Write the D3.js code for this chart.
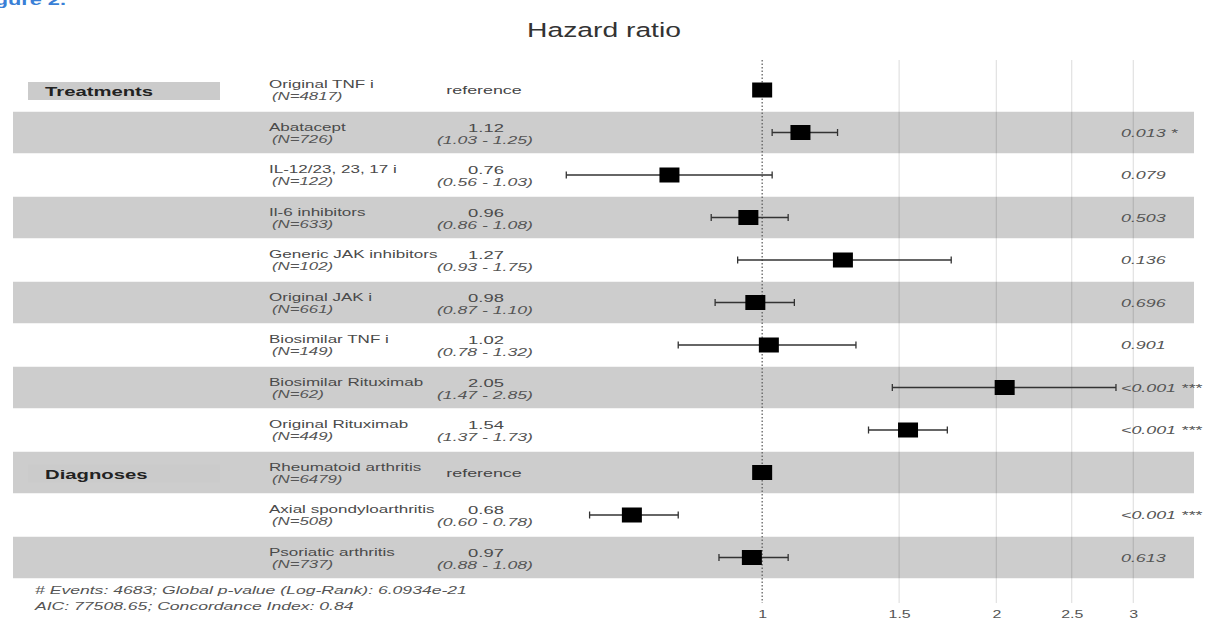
<!DOCTYPE html>
<html><head><meta charset="utf-8">
<script src="https://cdn.jsdelivr.net/npm/d3@7"></script>
<style>
html,body{margin:0;padding:0;background:#fff;}
svg{display:block;}
text{font-family:"Liberation Sans",Arial,sans-serif;}
</style></head>
<body>
<svg id="chart" width="1210" height="619"></svg>
<script>
// ---- data ----
const names = ["Original TNF i","Abatacept","IL-12/23, 23, 17 i","Il-6 inhibitors","Generic JAK inhibitors","Original JAK i","Biosimilar TNF i","Biosimilar Rituximab","Original Rituximab","Rheumatoid arthritis","Axial spondyloarthritis","Psoriatic arthritis"];
const nCounts = [4817,726,122,633,102,661,149,62,449,6479,508,737];
const hr =    [1.00,1.12,0.76,0.96,1.27,0.98,1.02,2.05,1.54,1.00,0.68,0.97];
const lower = [null,1.03,0.56,0.86,0.93,0.87,0.78,1.47,1.37,null,0.60,0.88];
const upper = [null,1.25,1.03,1.08,1.75,1.10,1.32,2.85,1.73,null,0.78,1.08];
const isRef = [true,false,false,false,false,false,false,false,false,true,false,false];
const pvals = ["","0.013 *","0.079","0.503","0.136","0.696","0.901","<0.001 ***","<0.001 ***","","<0.001 ***","0.613"];
const groups = [{label:"Treatments", row:0},{label:"Diagnoses", row:9}];
const tickVals = [1,1.5,2,2.5,3];
const tickLabels = ["1","1.5","2","2.5","3"];
const footer = ["# Events: 4683; Global p-value (Log-Rank): 6.0934e-21","AIC: 77508.65; Concordance Index: 0.84"];

// ---- layout ----
const SX = 1.45;
const svg = d3.select("#chart");
const rowY = d3.scaleLinear().domain([0,1]).range([90,132.5]);
const x = d3.scaleLog().domain([0.5,3.3]).range([528,1165.5]);
const rowH = 42.5;
const idx = d3.range(names.length);

function txt(g, s, tx, ty, opts){
  opts = opts||{};
  return g.append("text")
    .attr("transform",`translate(${tx},${ty}) scale(${opts.sx||SX},1)`)
    .attr("text-anchor",opts.anchor||"start")
    .style("font-size",(opts.size||10.5)+"px")
    .style("font-style",opts.italic?"italic":"normal")
    .style("font-weight",opts.bold?"bold":"normal")
    .style("fill",opts.fill||"#4a4a4a")
    .text(s);
}

// figure caption (cut off at top)
txt(svg,"Figure 2.",66,5,{anchor:"end",bold:true,size:15,fill:"#3a7fd6"});

// title
txt(svg,"Hazard ratio",604,37,{anchor:"middle",size:19.5,fill:"#333",sx:1.45});

// bands
svg.append("g").selectAll("rect").data(idx.filter(i=>i%2===1)).join("rect")
  .attr("x",13).attr("width",1181)
  .attr("y",i=>rowY(i)-rowH/2+0.5).attr("height",rowH-1)
  .attr("fill","#cdcdcd");

// group label boxes
const gl = svg.append("g");
gl.selectAll("rect").data(groups).join("rect")
  .attr("x",28).attr("width",192)
  .attr("y",d=>rowY(d.row)-8).attr("height",18)
  .attr("fill","#cbcbcb");
groups.forEach(d=>txt(gl,d.label,45,rowY(d.row)+6,{bold:true,size:13,fill:"#222",sx:1.56}));

// gridlines
const grid = svg.append("g");
grid.selectAll("line").data(tickVals.filter(v=>v!==1)).join("line")
  .attr("x1",d=>x(d)).attr("x2",d=>x(d))
  .attr("y1",60).attr("y2",603)
  .attr("stroke","rgba(0,0,0,0.12)").attr("stroke-width",1.2);
grid.append("line")
  .attr("x1",x(1)).attr("x2",x(1)).attr("y1",60).attr("y2",603)
  .attr("stroke","#555").attr("stroke-width",1.2).attr("stroke-dasharray","1.5,2");

// axis tick labels
const axis = d3.axisBottom(x).tickValues(tickVals).tickFormat((d,i)=>tickLabels[i]).tickSize(0).tickPadding(0);
const ag = svg.append("g").attr("transform","translate(0,610)").call(axis);
ag.select(".domain").remove();
ag.selectAll("text").attr("dy","0.71em").attr("transform",`scale(${SX},1)`)
  .style("font-size","11px").style("fill","#555").style("font-family","Liberation Sans, Arial, sans-serif");

// text columns
const tg = svg.append("g");
idx.forEach(i=>{
  const cy = rowY(i);
  txt(tg,names[i],269,cy-2,{size:11,fill:"#4a4a4a",sx:1.55});
  txt(tg,"(N="+nCounts[i]+")",272,cy+10,{size:10.5,italic:true,fill:"#555",sx:1.6});
  if(isRef[i]){
    txt(tg,"reference",484,cy+4,{anchor:"middle",size:10.5,fill:"#444",sx:1.7});
  } else {
    txt(tg,hr[i].toFixed(2),486,cy-1,{anchor:"middle",size:11.5,fill:"#4a4a4a",sx:1.6});
    txt(tg,"("+lower[i].toFixed(2)+" - "+upper[i].toFixed(2)+")",485,cy+11,{anchor:"middle",size:10.5,italic:true,fill:"#555",sx:1.68});
  }
  if(pvals[i]) txt(tg,pvals[i],1121,cy+4,{size:10.5,italic:true,fill:"#555",sx:1.7});
});

// CI lines
const ci = svg.append("g").attr("stroke","#333").attr("stroke-width",1.3);
const ciIdx = idx.filter(i=>!isRef[i]);
ci.selectAll("line.ci").data(ciIdx).join("line").attr("class","ci")
  .attr("x1",i=>x(lower[i])).attr("x2",i=>x(upper[i]))
  .attr("y1",i=>rowY(i)).attr("y2",i=>rowY(i));
ci.selectAll("line.capl").data(ciIdx).join("line").attr("class","capl")
  .attr("x1",i=>x(lower[i])).attr("x2",i=>x(lower[i]))
  .attr("y1",i=>rowY(i)-3.5).attr("y2",i=>rowY(i)+3.5);
ci.selectAll("line.capu").data(ciIdx).join("line").attr("class","capu")
  .attr("x1",i=>x(upper[i])).attr("x2",i=>x(upper[i]))
  .attr("y1",i=>rowY(i)-3.5).attr("y2",i=>rowY(i)+3.5);

// point squares
svg.append("g").selectAll("rect").data(idx).join("rect")
  .attr("x",i=>x(hr[i])-10).attr("width",20)
  .attr("y",i=>rowY(i)-7.5).attr("height",15)
  .attr("fill","#000");

// footer
footer.forEach((s,k)=>txt(svg,s,35,594+k*16,{size:11,italic:true,fill:"#555",sx:1.6}));
</script>
</body></html>
